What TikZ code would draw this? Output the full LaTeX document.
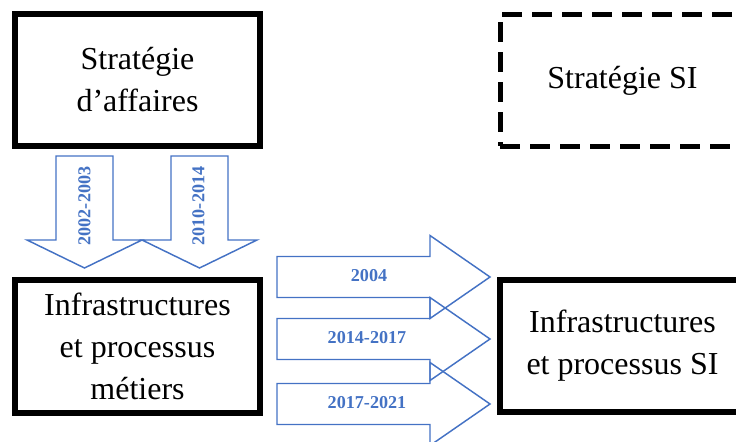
\documentclass[tikz,border=0pt]{standalone}
\usepackage{fontspec}
\setmainfont{Liberation Serif}
\definecolor{arrowblue}{RGB}{68,114,196}
\begin{document}
\begin{tikzpicture}[x=0.75pt,y=-0.75pt,
  box/.style={draw=black, line width=4pt, minimum width=183.75pt, minimum height=99pt,
    align=center, inner sep=0pt, font=\fontsize{24}{31.5}\selectfont},
  dashbox/.style={box, line width=3.75pt, dash pattern=on 15pt off 7.5pt},
  barrow/.style={draw=arrowblue, line width=1.1pt, line join=miter},
  lbl/.style={text=arrowblue, font=\fontsize{13.6}{15}\selectfont\bfseries, inner sep=0pt}]
\clip (0,0) rectangle (736,442);
% boxes
\node[box] (strat) at (137.5,80) {Stratégie\\d’affaires};
\node[dashbox] (stratsi) at (622.5,80.5) {Stratégie SI};
\node[box, minimum height=99.75pt] (infra) at (137.5,346.5) {Infrastructures\\et processus\\métiers};
\node[box] (infrasi) at (622.5,346) {Infrastructures\\et processus SI};
% down arrows
\draw[barrow] (56,156) -- (113,156) -- (113,240) -- (142,240) -- (84.5,268) -- (27,240) -- (56,240) -- cycle;
\draw[barrow] (171,156) -- (228,156) -- (228,240) -- (257,240) -- (199.5,268) -- (142,240) -- (171,240) -- cycle;
\node[lbl, rotate=90] (d1) at (84.5,206) {2002-2003};
\node[lbl, rotate=90] (d2) at (198.5,206) {2010-2014};
% right arrows
\foreach \c/\n in {277/a, 339/b, 404/c}{
  \draw[barrow] (277,\c-20.5) -- (430,\c-20.5) -- (430,\c-41.5) -- (490,\c) -- (430,\c+41.5) -- (430,\c+20.5) -- (277,\c+20.5) -- cycle;
}
\node[lbl] (r1) at (369,276) {2004};
\node[lbl] (r2) at (367,338) {2014-2017};
\node[lbl] (r3) at (367,403) {2017-2021};
\end{tikzpicture}
\end{document}
